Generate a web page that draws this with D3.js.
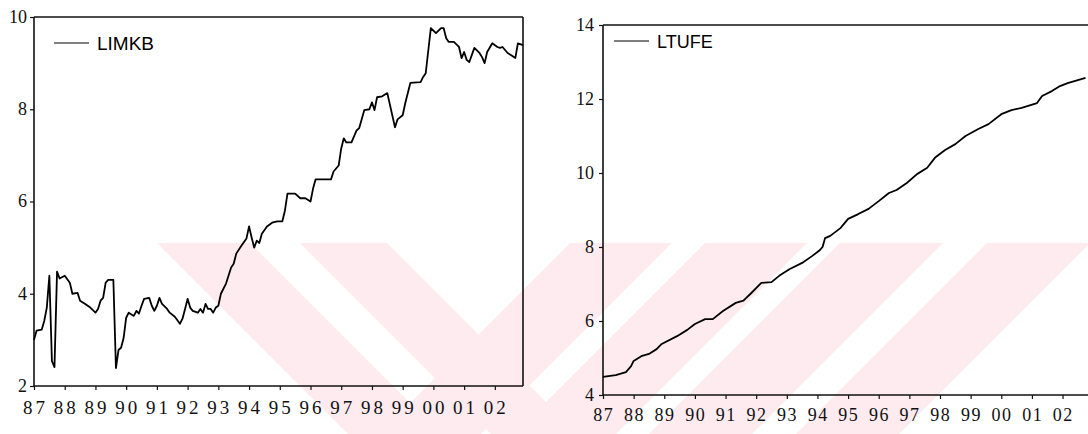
<!DOCTYPE html>
<html><head><meta charset="utf-8">
<script src="https://cdn.jsdelivr.net/npm/d3@7"></script>
<style>body{margin:0;background:#fff} svg{display:block}</style>
</head><body><svg id="c" width="1088" height="434"></svg>
<script>
// ---- data ----
const yearLabels = ["87","88","89","90","91","92","93","94","95","96","97","98","99","00","01","02"];
const limkbTicks = [2,4,6,8,10];
const ltufeTicks = [4,6,8,10,12,14];
// month index (0 = 1987M01)
const limkbMonths = [0,1,3,4,5,6,7,8,9,10,12,14,15,17,18,20,22,24,25,26,27,28,29,31,32,33,34,35,36,37,39,40,41,42,43,45,46,47,48,49,50,52,53,55,57,58,59,60,61,62,64,65,66,67,68,69,70,71,72,73,75,77,78,79,81,83,84,85,86,87,88,89,91,93,95,97,98,99,102,104,106,108,109,110,116,117,119,120,121,122,124,126,127,129,131,132,133,134,136,138,141,142,144,145,147,151,152,153,155,157,159,160,161,162,164,166,167,168,169,170,172,174,175,176,177,179,181,182,183,185,187,188,189,191];
const limkbValues = [3.0,3.2,3.22,3.41,3.7,4.39,2.54,2.41,4.48,4.33,4.39,4.24,4.0,4.02,3.85,3.78,3.70,3.59,3.67,3.85,3.91,4.24,4.30,4.30,2.39,2.78,2.83,3.04,3.48,3.59,3.52,3.63,3.57,3.74,3.89,3.91,3.74,3.63,3.74,3.91,3.78,3.67,3.59,3.5,3.35,3.46,3.67,3.89,3.7,3.63,3.59,3.67,3.59,3.78,3.67,3.67,3.59,3.7,3.74,4.0,4.22,4.57,4.65,4.87,5.04,5.2,5.46,5.22,5.0,5.15,5.1,5.3,5.46,5.54,5.57,5.57,5.8,6.17,6.17,6.07,6.07,6.0,6.28,6.48,6.48,6.65,6.78,7.15,7.37,7.28,7.28,7.54,7.59,7.98,8.0,8.15,7.98,8.26,8.28,8.35,7.61,7.78,7.87,8.13,8.57,8.59,8.7,8.78,9.76,9.65,9.76,9.76,9.54,9.46,9.46,9.35,9.11,9.24,9.07,9.02,9.33,9.22,9.13,9.0,9.24,9.43,9.35,9.33,9.35,9.22,9.15,9.11,9.43,9.39];
const ltufeMonths = [0,5,9,11,12,15,18,21,23,29,33,36,40,43,47,52,55,58,62,66,69,73,78,82,85,86,87,89,93,96,100,104,108,112,115,119,123,127,130,134,138,142,147,151,156,160,164,170,172,176,179,182,185,189];
const ltufeValues = [4.49,4.54,4.62,4.78,4.92,5.05,5.11,5.24,5.38,5.59,5.76,5.92,6.05,6.05,6.27,6.49,6.55,6.75,7.03,7.05,7.22,7.4,7.57,7.76,7.92,8.0,8.24,8.3,8.51,8.76,8.89,9.03,9.24,9.46,9.54,9.73,9.97,10.14,10.41,10.62,10.78,11.0,11.19,11.32,11.59,11.70,11.76,11.89,12.08,12.22,12.35,12.43,12.49,12.57];

// background watermark bands (decoration)
const wmBackslash = [[157,250],[300,387]];
const wmSlash = [[570,672],[705,807],[840,943],[987,1090]];

const svg = d3.select("#c");
const SERIF = "Liberation Serif, serif";
const SANS = "Liberation Sans, sans-serif";

// watermark
const wmTop = 243, wmBot = 434, h = wmBot - wmTop;
const wm = svg.append("g").attr("fill", "#fdebef");
wmBackslash.forEach(([a,b]) => wm.append("polygon").attr("points", [[a,wmTop],[b,wmTop],[b+h,wmBot],[a+h,wmBot]].join(" ")));
wmSlash.forEach(([a,b]) => wm.append("polygon").attr("points", [[a,wmTop],[b,wmTop],[b-h,wmBot],[a-h,wmBot]].join(" ")));

const monthTicks = yearLabels.map((d,i) => i*12);

function panel(cfg) {
  const g = svg.append("g");
  const x = d3.scaleLinear().domain([0,191]).range([cfg.x0, cfg.x1]);
  const y = d3.scaleLinear().domain(cfg.yDom).range([cfg.yb, cfg.yt]);
  // x ticks + labels
  const xa = g.append("g").attr("transform", `translate(0,${cfg.yb})`)
    .call(d3.axisBottom(x).tickValues(monthTicks).tickSize(4).tickFormat(""));
  xa.select(".domain").remove();
  xa.selectAll("line").attr("stroke","#111").attr("stroke-width",1.2);
  g.append("g").selectAll("text").data(monthTicks).join("text")
    .attr("x", d => x(d) + cfg.ls/2).attr("y", cfg.yb + cfg.xlabOff).attr("dy","0.33em")
    .attr("text-anchor","middle")
    .style("font-family", SERIF).style("font-size", cfg.xfs + "px").style("letter-spacing", cfg.ls + "px")
    .attr("fill","#111").text((d,i) => yearLabels[i]);
  // y ticks + labels
  const ya = g.append("g").attr("transform", `translate(${cfg.x0},0)`)
    .call(d3.axisLeft(y).tickValues(cfg.yTicks).tickSize(4).tickFormat(""));
  ya.select(".domain").remove();
  ya.selectAll("line").attr("stroke","#111").attr("stroke-width",1.2);
  g.append("g").selectAll("text").data(cfg.yTicks).join("text")
    .attr("x", cfg.x0 - 4 - cfg.ypad).attr("y", d => y(d)).attr("dy","0.33em")
    .attr("text-anchor","end")
    .style("font-family", SERIF).style("font-size","18px")
    .attr("fill","#111").text(d => d);
  // frame
  const f = g.append("g").attr("stroke","#111").attr("stroke-width",1.6).attr("fill","none");
  f.append("line").attr("x1",cfg.x0).attr("x2",cfg.x0).attr("y1",cfg.yt).attr("y2",cfg.yb);
  f.append("line").attr("x1",cfg.x0).attr("x2",cfg.frameRight).attr("y1",cfg.yb).attr("y2",cfg.yb);
  f.append("line").attr("x1",cfg.x0).attr("x2",cfg.frameRight).attr("y1",cfg.yt).attr("y2",cfg.yt);
  if (cfg.rightBorder) f.append("line").attr("x1",cfg.frameRight).attr("x2",cfg.frameRight).attr("y1",cfg.yt).attr("y2",cfg.yb);
  // series
  const pts = cfg.months.map((m,i)=>[m, cfg.values[i]]);
  g.append("path").datum(pts)
    .attr("d", d3.line().x(d=>x(d[0])).y(d=>y(d[1])))
    .attr("fill","none").attr("stroke","#000").attr("stroke-width",1.8).attr("stroke-linejoin","round");
  // legend
  g.append("line").attr("x1",cfg.leg[0]).attr("x2",cfg.leg[0]+35).attr("y1",cfg.leg[1]).attr("y2",cfg.leg[1])
    .attr("stroke","#000").attr("stroke-width",1);
  g.append("text").attr("x",cfg.leg[0]+43).attr("y",cfg.leg[1]+7).text(cfg.name)
    .style("font-family", SANS).style("font-size", cfg.legSize+"px").attr("fill","#000");
}

panel({x0:34, x1:523, frameRight:523, rightBorder:true, yt:17, yb:386, yDom:[2,10], yTicks:limkbTicks,
  months:limkbMonths, values:limkbValues, name:"LIMKB", leg:[54,43], legSize:19, xlabOff:22, ypad:3, xfs:19, ls:3});
panel({x0:603, x1:603+191*2.553, frameRight:1088, rightBorder:false, yt:25, yb:395, yDom:[4,14], yTicks:ltufeTicks,
  months:ltufeMonths, values:ltufeValues, name:"LTUFE", leg:[614,41], legSize:18, xlabOff:20, ypad:5, xfs:18, ls:1.5});
</script></body></html>
